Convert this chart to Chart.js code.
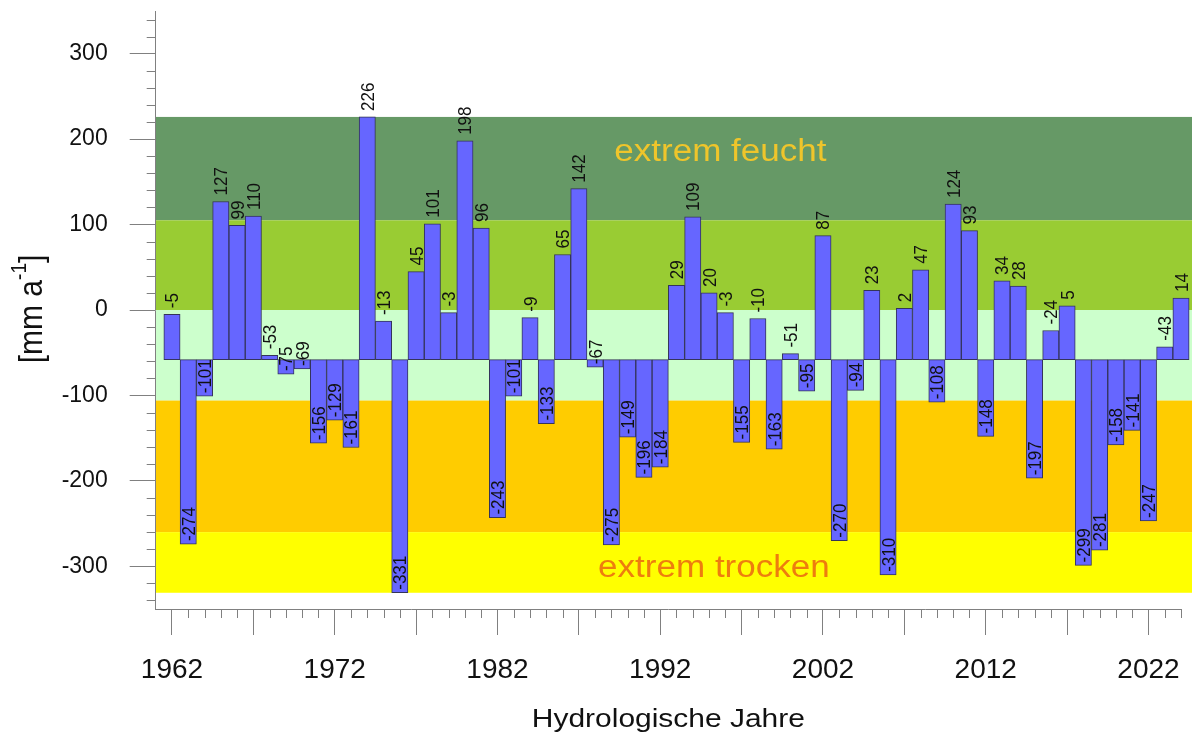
<!DOCTYPE html>
<html>
<head>
<meta charset="utf-8">
<script src="https://cdn.jsdelivr.net/npm/chart.js@4.4.1/dist/chart.umd.min.js"></script>
<style>
html,body{margin:0;padding:0;background:#ffffff;}
#wrap{width:1192px;height:735px;position:relative;}
</style>
</head>
<body>
<div id="wrap"><canvas id="c" width="1192" height="735"></canvas></div>
<script>
// ---------- data ----------
const years = [1962,1963,1964,1965,1966,1967,1968,1969,1970,1971,1972,1973,1974,1975,1976,1977,1978,1979,1980,1981,
  1982,1983,1984,1985,1986,1987,1988,1989,1990,1991,1992,1993,1994,1995,1996,1997,1998,1999,2000,2001,
  2002,2003,2004,2005,2006,2007,2008,2009,2010,2011,2012,2013,2014,2015,2016,2017,2018,2019,2020,2021,
  2022,2023,2024];
const balance = [-5,-274,-101,127,99,110,-53,-75,-69,-156,-129,-161,226,-13,-331,45,101,-3,198,96,
  -243,-101,-9,-133,65,142,-67,-275,-149,-196,-184,29,109,20,-3,-155,-10,-163,-51,-95,
  87,-270,-94,23,-310,2,47,-108,124,93,-148,34,28,-197,-24,5,-299,-281,-158,-141,
  -247,-43,14];
const barBase = -58;
const bandEdges = [226, 105, 0, -106, -260, -331];
const bandColors = ['#669966', '#99CC33', '#CCFFCC', '#FFCC00', '#FFFF00'];
const yMajorTicks = [-300,-200,-100,0,100,200,300];
const xMajorTicks = [1962,1967,1972,1977,1982,1987,1992,1997,2002,2007,2012,2017,2022];
const xTickLabels = [1962,1972,1982,1992,2002,2012,2022];
const zoneLabels = [
  {text:'extrem feucht', x:1995.7, y:175, color:'#EFC52B'},
  {text:'extrem trocken', x:1995.3, y:-313, color:'#EE7D0E'}
];

const FONT = '"Liberation Sans", Arial, Helvetica, sans-serif';
const SX = 1.13; // horizontal stretch of text in the reference

function stretchedText(ctx, text, x, y, size, color, align, baseline, rot) {
  ctx.save();
  ctx.translate(x, y);
  ctx.scale(SX, 1);
  if (rot) ctx.rotate(rot);
  ctx.font = size + 'px ' + FONT;
  ctx.fillStyle = color;
  ctx.textAlign = align;
  ctx.textBaseline = baseline;
  ctx.fillText(text, 0, 0);
  ctx.restore();
}

const decorPlugin = {
  id: 'decor',
  beforeDraw(chart) {
    const {ctx, chartArea, scales} = chart;
    const y = scales.y;
    ctx.save();
    for (let i = 0; i < bandColors.length; i++) {
      const top = y.getPixelForValue(bandEdges[i]);
      const bot = y.getPixelForValue(bandEdges[i + 1]);
      ctx.fillStyle = bandColors[i];
      ctx.fillRect(chartArea.left, top, chart.width - chartArea.left, bot - top);
    }
    ctx.restore();
  },
  beforeDatasetsDraw(chart) {
    const {ctx, scales} = chart;
    zoneLabels.forEach(z => {
      stretchedText(ctx, z.text, scales.x.getPixelForValue(z.x), scales.y.getPixelForValue(z.y),
        31, z.color, 'center', 'alphabetic', 0);
    });
  },
  afterDatasetsDraw(chart) {
    const {ctx, scales} = chart;
    const meta = chart.getDatasetMeta(0);
    meta.data.forEach((el, i) => {
      const v = balance[i];
      const py = scales.y.getPixelForValue(v);
      const off = v > barBase ? 6 : 3;
      stretchedText(ctx, String(v), el.x + 6.5, py - off, 17, '#111111', 'left', 'alphabetic', -Math.PI / 2);
    });
  },
  afterDraw(chart) {
    const {ctx, chartArea, scales} = chart;
    ctx.save();
    ctx.strokeStyle = '#808080';
    ctx.lineWidth = 1;
    ctx.beginPath();
    for (let v = -340; v <= 340; v += 20) {
      if (v % 100 === 0) continue;
      const py = Math.round(scales.y.getPixelForValue(v)) + 0.5;
      ctx.moveTo(chartArea.left - 9, py);
      ctx.lineTo(chartArea.left, py);
    }
    years.forEach(yr => {
      if ((yr - 1962) % 5 === 0) return;
      const px = Math.round(scales.x.getPixelForValue(yr)) + 0.5;
      ctx.moveTo(px, chartArea.bottom);
      ctx.lineTo(px, chartArea.bottom + 9);
    });
    ctx.stroke();
    ctx.restore();

    // x axis title
    stretchedText(ctx, 'Hydrologische Jahre', (chartArea.left + chartArea.right) / 2, 727, 26.5, '#111111', 'center', 'alphabetic', 0);

    // y axis title with superscript
    const cx = 42, cy = 309;
    ctx.save();
    ctx.translate(cx, cy);
    ctx.scale(SX, 1);
    ctx.rotate(-Math.PI / 2);
    ctx.fillStyle = '#111111';
    ctx.textBaseline = 'alphabetic';
    ctx.textAlign = 'left';
    const mainF = '30px ' + FONT, supF = '19px ' + FONT;
    ctx.font = mainF; const w1 = ctx.measureText('[mm a').width; const w3 = ctx.measureText(']').width;
    ctx.font = supF; const w2 = ctx.measureText('-1').width;
    const x0 = -(w1 + w2 + w3) / 2;
    ctx.font = mainF; ctx.fillText('[mm a', x0, 0);
    ctx.font = supF; ctx.fillText('-1', x0 + w1, -14);
    ctx.font = mainF; ctx.fillText(']', x0 + w1 + w2, 0);
    ctx.restore();
  }
};

const ctx = document.getElementById('c').getContext('2d');
new Chart(ctx, {
  type: 'bar',
  data: {
    datasets: [{
      data: years.map((yr, i) => ({x: yr, y: [barBase, balance[i]]})),
      backgroundColor: '#6666FF',
      borderColor: '#34345a',
      borderWidth: 1,
      borderSkipped: false,
      barPercentage: 1,
      categoryPercentage: 1,
      clip: false
    }]
  },
  options: {
    responsive: false,
    animation: false,
    layout: {padding: {left: 0, top: 11, right: 11, bottom: 0}},
    plugins: {legend: {display: false}, tooltip: {enabled: false}},
    scales: {
      x: {
        type: 'linear', min: 1961, max: 2024, offset: false,
        afterBuildTicks: s => { s.ticks = xMajorTicks.map(v => ({value: v})); },
        afterFit: s => { s.height = 126; s.paddingLeft = 0; s.paddingRight = 0; },
        ticks: {
          autoSkip: false, maxRotation: 0, minRotation: 0, padding: 18,
          color: '#111111', font: {family: FONT, size: 28},
          callback: v => xTickLabels.includes(v) ? String(v) : ''
        },
        grid: {offset: false, drawOnChartArea: false, drawTicks: true, tickLength: 26, tickColor: '#808080', tickWidth: 1},
        border: {display: true, color: '#808080', width: 1}
      },
      y: {
        min: -350, max: 350,
        afterBuildTicks: s => { s.ticks = yMajorTicks.map(v => ({value: v})); },
        afterFit: s => { s.width = 155.7; s.paddingTop = 0; s.paddingBottom = 0; },
        ticks: {
          padding: 22, color: '#111111', font: {family: FONT, size: 23},
          callback: v => String(v)
        },
        grid: {offset: false, drawOnChartArea: false, drawTicks: true, tickLength: 26, tickColor: '#808080', tickWidth: 1},
        border: {display: true, color: '#808080', width: 1}
      }
    }
  },
  plugins: [decorPlugin]
});
</script>
</body>
</html>
